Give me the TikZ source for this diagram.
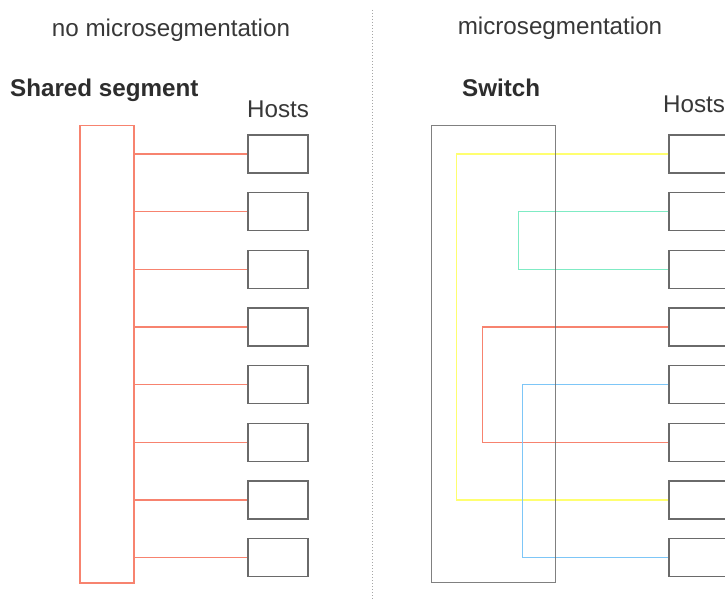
\documentclass[tikz,border=0pt]{standalone}
\usepackage{fontspec}
\setmainfont{Liberation Sans}
\definecolor{segred}{HTML}{F7836F}
\definecolor{ylw}{HTML}{FFFF70}
\definecolor{grn}{HTML}{7FEBC4}
\definecolor{blu}{HTML}{7DC6F7}
\definecolor{boxgray}{HTML}{6A6A6A}
\definecolor{txt}{HTML}{383838}
\begin{document}
\begin{tikzpicture}[x=1pt,y=-1pt,
  hostbox/.style={draw=boxgray,line width=1.4pt,minimum width=60pt,minimum height=38pt,inner sep=0pt},
  label/.style={font=\fontsize{24.2}{28}\selectfont,text=txt,inner sep=0pt,anchor=base},
  boldlabel/.style={font=\fontsize{24.2}{28}\selectfont\bfseries,text=txt!80!black,inner sep=0pt,anchor=base west},
  wire/.style={line width=1.5pt}]
\useasboundingbox (0,0) rectangle (725,601);
\fill[white] (0,0) rectangle (725,601);
% titles
\node[label] (t1) at (171,37) {no microsegmentation};
\node[label] (t2) at (560,35) {microsegmentation};
\node[boldlabel] (shared) at (10,97) {Shared segment};
\node[boldlabel] (switchlbl) at (462,96.5) {Switch};
\node[label,anchor=base west] (hostsL) at (247,118) {Hosts};
\node[label,anchor=base west] (hostsR) at (663,113) {Hosts};
% divider
\coordinate (dtop) at (372,10);
\coordinate (dbot) at (372,601);
\draw[gray!70,dotted,line width=1pt] (dtop) -- (dbot);
% shared segment
\node[draw=segred,line width=1.5pt,minimum width=54pt,minimum height=457pt,inner sep=0pt,anchor=north west] (seg) at (79,125) {};
% hosts
\foreach \i/\y in {1/154,2/211.7,3/269.3,4/327,5/384.7,6/442.3,7/500,8/557.7}{
  \node[hostbox] (lh\i) at (278,\y) {};
  \node[hostbox] (rh\i) at (699,\y) {};
}
\foreach \i in {1,...,8}{
  \draw[wire,segred] (seg.east |- lh\i.west) -- (lh\i.west);
}
% switch links
\draw[wire,ylw] (rh1.west) -- ++(-212,0) |- (rh7.west);
\draw[wire,grn] (rh2.west) -- ++(-150,0) |- (rh3.west);
\draw[wire,segred] (rh4.west) -- ++(-186,0) |- (rh6.west);
\draw[wire,blu] (rh5.west) -- ++(-146,0) |- (rh8.west);
% switch
\node[draw=boxgray,line width=1.4pt,draw opacity=0.85,minimum width=124pt,minimum height=457pt,inner sep=0pt,anchor=north west] (sw) at (431,125) {};
\end{tikzpicture}
\end{document}
